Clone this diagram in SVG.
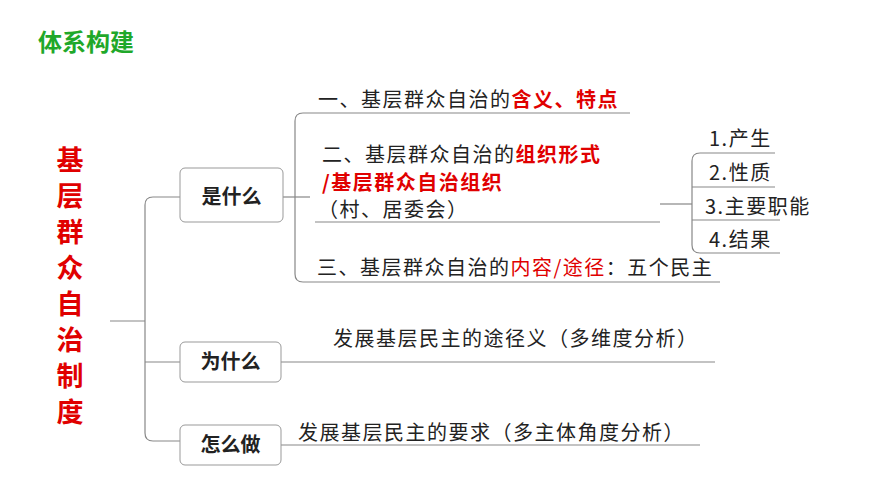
<svg xmlns="http://www.w3.org/2000/svg" width="870" height="489" viewBox="0 0 870 489">
<style>
text{font-family:"Noto Sans CJK SC","Noto Sans",sans-serif;fill:#222}
.t{font-size:20px;letter-spacing:1.5px}
.r{fill:#e00000}
.b{font-weight:bold}
.box{fill:#fff;stroke:#999;stroke-width:1}
.ln{fill:none;stroke:#888;stroke-width:1.2}
</style>
<rect width="870" height="489" fill="#fff"/>
<text x="38" y="51" font-size="24" font-weight="bold" style="fill:#1fa82a">体系构建</text>
<g id="root" font-size="27" font-weight="bold" text-anchor="middle">
<text x="70" y="170" class="r">基</text><text x="70" y="206" class="r">层</text><text x="70" y="242" class="r">群</text><text x="70" y="278" class="r">众</text><text x="70" y="314" class="r">自</text><text x="70" y="350" class="r">治</text><text x="70" y="386" class="r">制</text><text x="70" y="422" class="r">度</text></g>
<g id="connectors" class="ln">
<path d="M110 321H145"/>
<path d="M180 197H153Q145 197 145 205V433Q145 441 153 441H180"/>
<path d="M145 362H180"/>
<path d="M283 197H310"/>
<path d="M630 113H303Q295 113 295 121V274Q295 282 303 282H720"/>
<path d="M315 222H660"/>
<path d="M660 204H692"/>
<path d="M775 153H700Q692 153 692 161V245Q692 253 700 253H780"/>
<path d="M692 187H775M692 220H780"/>
<path d="M281 362H715"/>
<path d="M281 445H700"/>
</g>
<g id="n1"><rect class="box" x="180" y="168" width="103" height="54" rx="5"/><text x="231.5" y="204" font-size="20" font-weight="bold" text-anchor="middle">是什么</text></g>
<g id="n2"><rect class="box" x="180" y="342" width="101" height="40" rx="5"/><text x="230.5" y="369" font-size="20" font-weight="bold" text-anchor="middle">为什么</text></g>
<g id="n3"><rect class="box" x="180" y="425" width="101" height="40" rx="5"/><text x="230.5" y="452" font-size="20" font-weight="bold" text-anchor="middle">怎么做</text></g>
<g id="i1"><text class="t" x="318" y="107">一、基层群众自治的<tspan class="r b">含义、特点</tspan></text></g>
<g id="i2"><text class="t" x="322" y="162">二、基层群众自治的<tspan class="r b">组织形式</tspan></text>
<text class="t r b" x="322" y="190">/基层群众自治组织</text>
<text class="t" x="318" y="217">（村、居委会）</text></g>
<g id="i3"><text class="t" x="317" y="275">三、基层群众自治的<tspan class="r">内容/途径</tspan>：五个民主</text></g>
<g id="s1"><text class="t" x="709" y="146">1.产生</text></g>
<g id="s2"><text class="t" x="709" y="180">2.性质</text></g>
<g id="s3"><text class="t" x="705" y="214">3.主要职能</text></g>
<g id="s4"><text class="t" x="709" y="247">4.结果</text></g>
<g id="w"><text class="t" x="333" y="346">发展基层民主的途径义（多维度分析）</text></g>
<g id="h"><text class="t" x="298" y="440">发展基层民主的要求（多主体角度分析）</text></g>
</svg>
